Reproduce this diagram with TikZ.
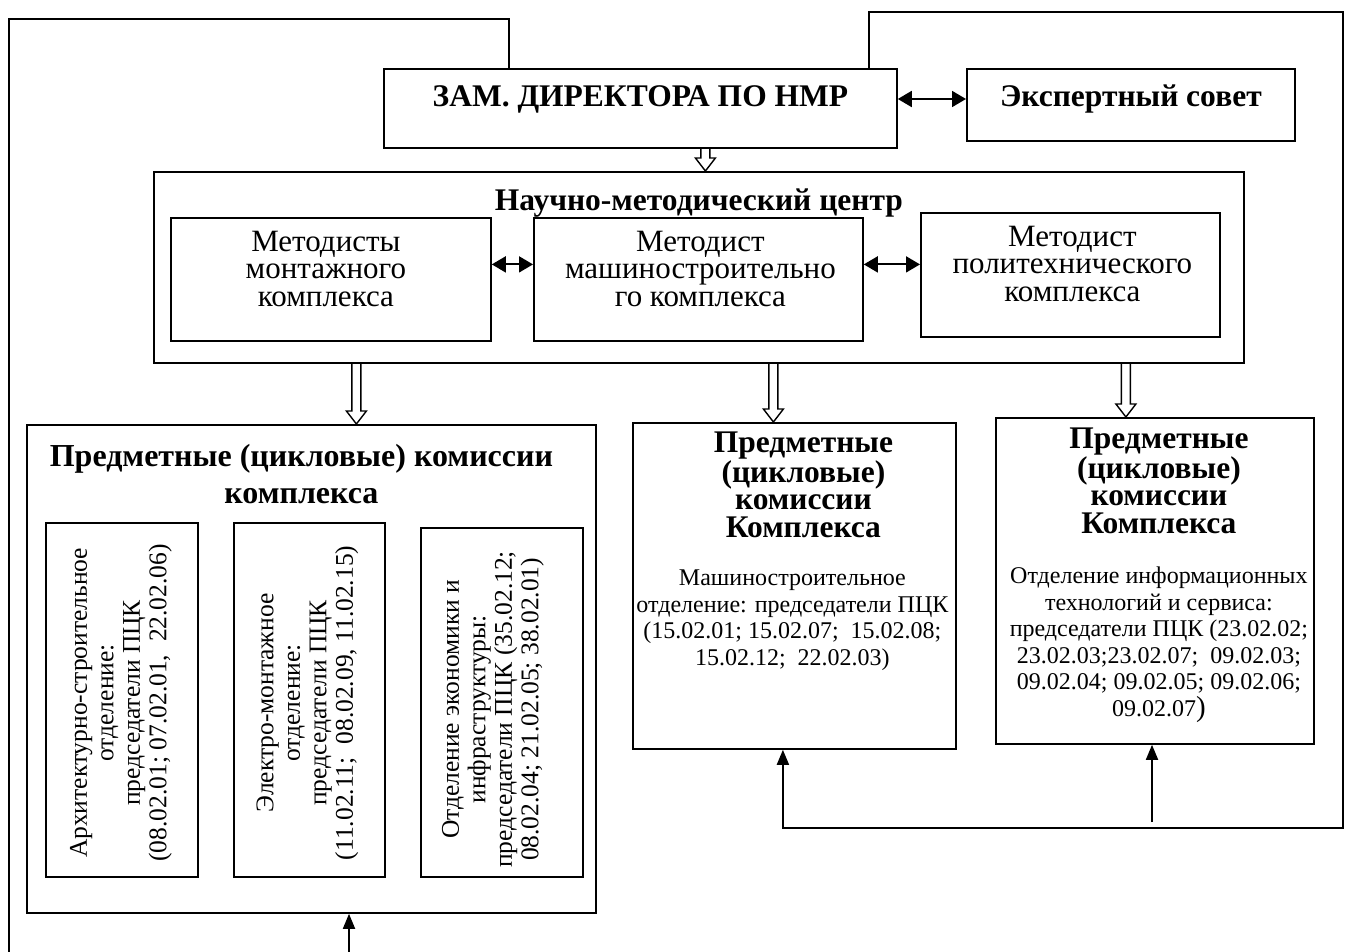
\documentclass[tikz,border=0pt]{standalone}
\usepackage{fontspec}
\setmainfont{Liberation Serif}
\usetikzlibrary{arrows.meta, positioning, calc}
\newcommand{\ttlfont}{\fontsize{31.5}{27.5}\selectfont\bfseries}
\newcommand{\bigttlfont}{\fontsize{32}{37}\selectfont\bfseries}
\newcommand{\metfont}{\fontsize{31}{27.5}\selectfont}
\newcommand{\txtfont}{\fontsize{24}{26.5}\selectfont}
\newcommand{\rotfont}{\fontsize{25.5}{26.5}\selectfont}
\newcommand{\hollowarrow}[2]{%
  \draw[hollow] let \p1=#1, \p2=#2 in
    (\x1-4.5pt,\y1) -- (\x1-4.5pt,\y2+13pt) -- (\x1-10pt,\y2+13pt) -- (\x1,\y2)
    -- (\x1+10pt,\y2+13pt) -- (\x1+4.5pt,\y2+13pt) -- (\x1+4.5pt,\y1);}
\tikzset{
  box/.style={rectangle, draw, line width=1.8pt, anchor=north west, inner sep=0pt},
  wh/.style 2 args={minimum width=#1pt, minimum height=#2pt},
  txt/.style={align=center, inner sep=0pt},
  vert/.style={txt, rotate=90, font=\rotfont},
  line/.style={line width=1.8pt},
  arrow/.style={line width=1.8pt, -{Triangle[length=15pt, width=12pt]}},
  arrowb/.style={line width=1.8pt, {Triangle[length=14pt, width=16pt]}-{Triangle[length=14pt, width=16pt]}},
  hollow/.style={line width=1.4pt, line join=miter},
}
\begin{document}
\begin{tikzpicture}[x=1pt, y=-1pt]
\useasboundingbox (0,0) rectangle (1347,952);

% head of the scheme
\node[box, wh={513}{79}] (zam) at (383,68) {};
\node[txt, font=\ttlfont] (zamT) at ($(zam.north)+(0,31)$) {ЗАМ. ДИРЕКТОРА ПО НМР};
\node[box, wh={328}{72}] (exp) at (966,68) {};
\node[txt, font=\ttlfont] (expT) at ($(exp.north)+(0,31)$) {Экспертный совет};

% methodical centre
\node[box, wh={1090}{191}] (nmc) at (153,171) {};
\node[txt, font=\ttlfont] (nmcT) at ($(nmc.north)+(0,32)$) {Научно-методический центр};
\node[box, wh={320}{123}] (met1) at (170,217) {};
\node[txt, font=\metfont] (met1T) at ($(met1.north)+(-5,52)$) {Методисты\\монтажного\\комплекса};
\node[box, wh={329}{123}] (met2) at (533,217) {};
\node[txt, font=\metfont] (met2T) at ($(met2.north)+(2,52)$) {Методист\\машиностроительно\\го комплекса};
\node[box, wh={299}{124}] (met3) at (920,212) {};
\node[txt, font=\metfont] (met3T) at ($(met3.north)+(2,52)$) {Методист\\политехнического\\комплекса};

% commissions
\node[box, wh={569}{488}] (pck1) at (26,424) {};
\node[txt, font=\bigttlfont] (pck1T) at ($(pck1.north)+(-10,50)$) {Предметные (цикловые) комиссии\\комплекса};
\node[box, wh={152}{354}] (dep1) at (45,522) {};
\node[vert] (dep1T) at ($(dep1.center)+(-1,3)$) {Архитектурно-строительное\\отделение:\\председатели ПЦК\\(08.02.01; 07.02.01, \ 22.02.06)};
\node[box, wh={151}{354}] (dep2) at (233,522) {};
\node[vert] (dep2T) at ($(dep2.center)+(-2,3)$) {Электро-монтажное\\отделение:\\председатели ПЦК\\(11.02.11; \ 08.02.09, 11.02.15)};
\node[box, wh={162}{349}] (dep3) at (420,527) {};
\node[vert] (dep3T) at ($(dep3.center)+(-9,7)$) {Отделение экономики и\\инфраструктуры:\\председатели ПЦК (35.02.12;\\08.02.04; 21.02.05; 38.02.01)};

\node[box, wh={323}{326}] (pck2) at (632,422) {};
\node[txt, font=\ttlfont] (pck2T) at ($(pck2.north)+(9,63)$) {Предметные\\(цикловые)\\комиссии\\Комплекса};
\node[txt, font=\txtfont] (pck2B) at ($(pck2.north)+(-2,198)$) {Машиностроительное\\отделение: председатели ПЦК\\(15.02.01; 15.02.07; \ 15.02.08;\\15.02.12; \ 22.02.03)};
\node[box, wh={318}{326}] (pck3) at (995,417) {};
\node[txt, font=\ttlfont] (pck3T) at ($(pck3.north)+(4,64)$) {Предметные\\(цикловые)\\комиссии\\Комплекса};
\node[txt, font=\txtfont] (pck3B) at ($(pck3.north)+(4,228)$) {Отделение информационных\\технологий и сервиса:\\председатели ПЦК (23.02.02;\\23.02.03;23.02.07; \ 09.02.03;\\09.02.04; 09.02.05; 09.02.06;\\09.02.07{\fontsize{29}{26}\selectfont)}};

% links
\draw[arrowb] ([yshift=-31pt]zam.north east) -- ([yshift=-31pt]exp.north west);
\draw[arrowb] ([yshift=15pt]met1.east) -- ([yshift=15pt]met1.east -| met2.west);
\draw[arrowb] ([yshift=15pt]met2.east) -- ([yshift=15pt]met2.east -| met3.west);
\hollowarrow{([xshift=65pt]zam.south)}{([xshift=65pt]zam.south |- nmc.north)}
\hollowarrow{([xshift=45pt]pck1.north |- nmc.south)}{([xshift=45pt]pck1.north)}
\hollowarrow{([xshift=-21pt]pck2.north |- nmc.south)}{([xshift=-21pt]pck2.north)}
\hollowarrow{([xshift=-29pt]pck3.north |- nmc.south)}{([xshift=-29pt]pck3.north)}

% feedback lines
\coordinate (tl) at (9,19);
\coordinate (bl) at (9,952);
\coordinate (tr) at (1343,12);
\coordinate (br) at (1343,828);
\coordinate (jn) at (1152,822);
\coordinate (bot) at (349,952);
\draw[line] ([xshift=-131.5pt]zam.north) |- (tl) -- (bl);
\draw[arrow] ([xshift=228.5pt]zam.north) |- (tr) -- (br) -| ([xshift=-11.5pt]pck2.south);
\draw[arrow] (jn) -- (jn |- pck3.south);
\draw[arrow] (bot) -- (bot |- pck1.south);
\end{tikzpicture}
\end{document}
